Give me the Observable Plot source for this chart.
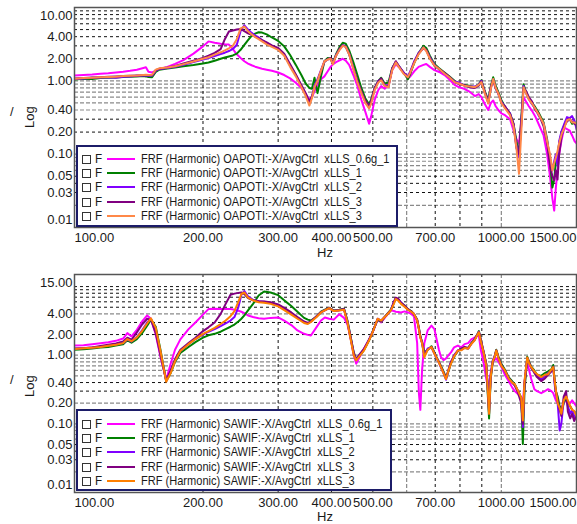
<!DOCTYPE html>
<html><head><meta charset="utf-8">
<script src="https://cdn.jsdelivr.net/npm/d3@7"></script>
<script src="https://cdn.jsdelivr.net/npm/@observablehq/plot@0.6"></script>
<style>
body{margin:0;background:#fff;font-family:"Liberation Sans",Arial,sans-serif;}
#wrap{position:relative;width:577px;height:524px;overflow:hidden;}
.panel{position:absolute;left:0;width:577px;}
.legend{position:absolute;background:#fff;border:2px solid #1c1c68;box-sizing:border-box;font-size:13px;color:#1a1a1a;}
.row{position:absolute;left:0;height:14px;line-height:14px;white-space:pre;width:330px;}
.cb{position:absolute;left:2px;top:3px;width:7px;height:7px;border:1px solid #333;background:#fff;}
.ff{position:absolute;left:15px;top:0;transform:scaleX(0.9);transform-origin:0 0;}
.sw{position:absolute;left:27px;top:6px;width:28px;height:2px;}
.tx{position:absolute;left:61px;top:0;transform:scaleX(0.85);transform-origin:0 0;}
.lab{position:absolute;font-size:13px;color:#1a1a1a;white-space:pre;line-height:12px;}
</style></head>
<body><div id="wrap"></div>
<script>
// ---------- data ----------
const seriesColorsTop = ["#ff00ff", "#008000", "#8000ff", "#800080", "#ff8848"];
const seriesColorsBot = ["#ff00ff", "#008000", "#8000ff", "#800080", "#ff8000"];
const namesTop = ["FRF (Harmonic) OAPOTI:-X/AvgCtrl  xLLS_0.6g_1","FRF (Harmonic) OAPOTI:-X/AvgCtrl  xLLS_1","FRF (Harmonic) OAPOTI:-X/AvgCtrl  xLLS_2","FRF (Harmonic) OAPOTI:-X/AvgCtrl  xLLS_3","FRF (Harmonic) OAPOTI:-X/AvgCtrl  xLLS_3"];
const namesBot = ["FRF (Harmonic) SAWIF:-X/AvgCtrl  xLLS_0.6g_1","FRF (Harmonic) SAWIF:-X/AvgCtrl  xLLS_1","FRF (Harmonic) SAWIF:-X/AvgCtrl  xLLS_2","FRF (Harmonic) SAWIF:-X/AvgCtrl  xLLS_3","FRF (Harmonic) SAWIF:-X/AvgCtrl  xLLS_3"];

const xTicksMid = [200, 300, 400, 500, 700, 1000];
const xTickFirst = [100];
const xTickLast = [1500];
const yTicksTopMid = [4, 2, 1, 0.4, 0.2, 0.1, 0.05, 0.03];
const yTickTopFirst = [10];
const yTicksBotMid = [4, 2, 1, 0.4, 0.2, 0.1, 0.05, 0.03];
const yTickBotFirst = [15];
const yTickLast = [0.01];

const vGridBlack = [200, 300, 400, 500, 700, 800, 900];
const vGridGray = [600, 1000];
const hGridBlackTop = [9, 8, 7, 6, 5, 4, 3, 2, 0.3, 0.2, 0.05, 0.04, 0.03];
const hGridGrayTop = [1, 0.9, 0.8, 0.7, 0.6, 0.5, 0.4, 0.1, 0.09, 0.08, 0.07, 0.06, 0.02];
const hGridBlackBot = [10, 9, 8, 7, 6, 5, 3, 2, 0.4, 0.3, 0.05, 0.04, 0.03];
const hGridGrayBot = [4, 1, 0.9, 0.8, 0.7, 0.6, 0.5, 0.2, 0.1, 0.09, 0.08, 0.07, 0.06, 0.02];

const fTop = [100,105,110,115,120,125,130,135,140,145,147,149,152,155,158,165,172,180,190,200,
206,213,220,225,230,235,240,245,250,255,260,265,270,275,282,290,300,310,320,330,
340,348,355,360,365,371,378,385,392,398,403,410,418,425,432,440,450,460,470,480,
490,495,505,515,523,533,544,555,566,575,590,604,612,625,640,657,667,680,697,715,
736,755,777,795,818,840,867,885,898,915,932,945,957,970,984,1000,1020,1048,1068,1085,
1100,1115,1127,1143,1160,1180,1200,1222,1256,1280,1300,1317,1330,1342,1354,1366,1385,1405,1425,1446,
1465,1485,1500];
const topMag = [1.18,1.20,1.22,1.25,1.27,1.30,1.33,1.37,1.42,1.50,1.53,1.33,1.30,1.38,1.45,1.55,1.70,1.92,2.35,2.95,
3.45,3.30,3.20,3.15,3.12,2.70,2.30,2.05,1.85,1.72,1.63,1.56,1.51,1.46,1.42,1.37,1.30,1.20,1.08,0.94,
0.80,0.66,0.55,0.60,0.72,0.88,1.05,1.15,1.35,1.55,1.68,1.80,1.90,2.00,1.88,1.65,1.20,0.85,0.55,0.38,
0.26,0.32,0.55,0.75,0.85,0.78,0.90,1.40,1.68,1.55,1.30,1.08,1.15,1.35,1.55,1.65,1.70,1.55,1.40,1.32,
1.20,1.05,0.88,0.82,0.78,0.72,0.62,0.66,0.60,0.48,0.40,0.50,0.54,0.45,0.40,0.36,0.34,0.30,0.21,0.16,
0.14,0.30,0.60,0.52,0.45,0.39,0.33,0.26,0.18,0.10,0.05,0.025,0.017,0.035,0.06,0.10,0.16,0.23,0.22,0.21,
0.18,0.15,0.14];
const topGreen = [1.04,1.07,1.06,1.09,1.10,1.11,1.13,1.14,1.15,1.16,1.15,1.13,1.12,1.32,1.42,1.47,1.52,1.58,1.64,1.72,
1.78,1.88,2.00,2.08,2.15,2.22,2.35,2.65,3.10,3.60,4.10,4.40,4.60,4.55,4.30,3.90,3.50,2.95,2.25,1.65,
1.20,0.92,0.80,0.78,1.10,0.68,1.15,1.85,2.05,2.00,1.75,2.30,2.90,3.30,3.20,2.60,1.80,1.20,0.80,0.58,
0.48,0.55,0.80,1.00,1.10,0.92,0.95,1.50,1.80,1.60,1.30,1.05,1.25,1.75,2.40,3.00,2.80,2.20,1.70,1.48,
1.30,1.15,1.00,0.92,0.88,0.86,0.82,0.90,1.02,0.72,0.55,0.85,1.12,0.85,0.70,0.55,0.44,0.36,0.26,0.15,
0.10,0.35,0.90,0.70,0.58,0.50,0.44,0.37,0.27,0.16,0.08,0.035,0.045,0.08,0.10,0.14,0.20,0.25,0.30,0.30,
0.26,0.27,0.24];
const topViolet = [1.06,1.08,1.10,1.11,1.12,1.10,1.14,1.15,1.17,1.18,1.18,1.17,1.18,1.38,1.45,1.50,1.56,1.66,1.80,1.95,
2.05,2.18,2.32,2.42,2.55,2.72,3.10,4.80,5.70,5.00,4.50,4.15,3.90,3.60,3.30,3.00,2.72,2.25,1.62,1.20,
0.85,0.66,0.50,0.60,0.85,1.05,1.40,1.85,1.95,2.00,1.70,2.25,2.70,3.05,2.95,2.35,1.50,1.00,0.70,0.52,
0.43,0.50,0.78,1.00,1.05,0.88,0.85,1.45,1.82,1.60,1.30,1.15,1.35,1.85,2.40,2.85,2.60,2.10,1.65,1.42,
1.25,1.12,0.98,0.95,0.86,0.84,0.84,0.88,1.00,0.68,0.52,0.80,1.05,0.80,0.66,0.52,0.44,0.36,0.25,0.13,
0.09,0.30,0.85,0.68,0.56,0.48,0.42,0.34,0.26,0.15,0.09,0.06,0.08,0.10,0.07,0.15,0.21,0.26,0.32,0.31,
0.33,0.28,0.22];
const topPurple = [1.08,1.09,1.11,1.12,1.14,1.15,1.16,1.17,1.18,1.19,1.20,1.19,1.19,1.40,1.46,1.52,1.60,1.72,1.88,2.05,
2.20,2.40,2.70,3.70,4.70,4.85,5.00,5.10,4.75,4.45,4.25,4.00,3.80,3.60,3.35,3.05,2.80,2.35,1.68,1.22,
0.88,0.68,0.52,0.62,0.80,1.00,1.35,1.80,1.98,2.05,1.72,2.20,2.75,3.05,2.90,2.30,1.50,1.00,0.72,0.54,
0.46,0.52,0.80,0.98,1.08,0.86,0.84,1.48,1.85,1.58,1.28,1.12,1.30,1.80,2.35,2.80,2.65,2.05,1.60,1.45,
1.28,1.14,0.96,0.90,0.88,0.82,0.80,0.86,0.98,0.70,0.50,0.82,1.02,0.78,0.68,0.50,0.45,0.35,0.26,0.12,
0.10,0.28,0.80,0.72,0.60,0.52,0.40,0.36,0.24,0.14,0.07,0.05,0.044,0.06,0.045,0.10,0.18,0.24,0.28,0.30,
0.28,0.26,0.25];
const topOrange = [1.07,1.09,1.10,1.12,1.13,1.14,1.16,1.17,1.18,1.20,1.21,1.20,1.21,1.42,1.48,1.52,1.58,1.69,1.84,2.00,
2.10,2.28,2.45,2.60,2.78,3.00,3.70,5.20,5.50,4.75,4.30,3.95,3.70,3.45,3.15,2.90,2.65,2.20,1.55,1.15,
0.82,0.62,0.46,0.58,0.82,1.00,1.38,1.85,1.95,2.00,1.68,2.20,2.65,3.00,2.90,2.30,1.45,0.95,0.68,0.50,
0.42,0.48,0.75,0.95,1.02,0.85,0.82,1.40,1.78,1.55,1.25,1.12,1.30,1.75,2.30,2.85,2.55,2.00,1.62,1.45,
1.25,1.12,0.96,0.92,0.86,0.84,0.82,0.88,0.96,0.67,0.49,0.78,1.06,0.80,0.67,0.50,0.42,0.34,0.24,0.12,
0.054,0.23,0.82,0.67,0.56,0.49,0.42,0.35,0.26,0.15,0.10,0.06,0.075,0.09,0.11,0.14,0.19,0.23,0.29,0.30,
0.27,0.27,0.26];

const fBot = [100,105,110,115,120,125,130,133,136,140,144,148,151,155,159,164,168,172,177,185,
192,200,206,213,220,226,232,237,242,246,250,255,262,270,278,288,300,310,322,333,
345,352,358,368,378,386,395,405,417,428,436,444,451,457,464,477,490,500,513,523,
537,551,560,566,574,582,593,604,615,624,635,641,646,652,660,672,686,697,704,714,
722,732,742,752,762,775,791,805,820,836,850,865,878,886,895,910,922,930,936,944,
955,964,973,985,1000,1019,1040,1060,1075,1095,1113,1123,1133,1150,1162,1175,1195,1212,1240,1265,
1287,1310,1323,1335,1342,1355,1370,1382,1400,1418,1432,1450,1465,1481,1500];
const botMag = [1.38,1.40,1.45,1.50,1.55,1.62,1.75,2.10,1.88,2.35,3.10,3.80,3.40,2.00,0.95,0.44,0.75,1.20,1.70,2.40,
3.00,3.90,4.70,4.75,4.70,4.70,4.70,4.60,4.45,4.30,4.10,3.80,3.60,3.45,3.40,3.50,3.55,3.20,2.75,2.30,
2.05,1.98,1.94,2.50,3.20,3.55,3.40,3.30,3.95,3.50,2.80,1.70,1.00,0.75,0.90,1.25,1.70,2.20,3.30,3.00,
3.70,4.50,4.40,4.30,4.25,4.20,4.35,4.20,4.00,3.70,1.50,0.28,0.16,0.60,1.50,2.30,2.70,2.40,1.80,1.20,
0.94,0.85,0.90,1.00,1.10,1.30,1.38,1.30,1.45,1.50,1.70,1.80,1.95,1.90,1.20,0.75,0.45,0.35,0.40,0.55,
0.80,0.85,0.90,0.80,0.68,0.52,0.42,0.34,0.30,0.27,0.24,0.20,0.40,0.78,0.60,0.45,0.32,0.30,0.28,0.30,
0.32,0.30,0.28,0.24,0.22,0.20,0.18,0.17,0.20,0.22,0.21,0.20,0.22,0.20,0.18];
const botGreen = [1.20,1.22,1.25,1.30,1.32,1.38,1.45,1.65,1.52,1.72,2.10,2.70,3.30,2.60,1.20,0.42,0.55,0.80,1.08,1.32,
1.55,1.80,1.95,2.05,2.20,2.40,2.60,2.80,3.10,3.40,3.80,4.50,5.60,7.40,8.50,8.20,7.50,6.30,5.20,4.30,
3.50,3.30,3.20,3.60,4.30,4.60,4.90,4.50,4.60,4.75,3.20,1.80,1.10,0.88,0.95,1.20,1.65,2.25,3.30,3.10,
3.80,4.60,5.80,6.70,6.40,5.80,5.30,4.70,4.40,4.00,3.30,2.50,1.90,1.55,1.10,1.20,1.35,1.10,0.95,0.80,
0.70,0.58,0.47,0.58,0.76,0.95,1.15,1.25,1.30,1.26,1.50,1.70,2.00,2.25,1.70,1.10,0.75,0.25,0.12,0.45,
0.80,0.95,1.20,0.95,0.75,0.62,0.48,0.42,0.38,0.30,0.24,0.051,0.30,0.95,0.80,0.68,0.60,0.52,0.50,0.55,
0.58,0.62,0.72,0.40,0.30,0.25,0.18,0.15,0.20,0.24,0.20,0.18,0.16,0.15,0.14];
const botViolet = [1.24,1.27,1.30,1.33,1.38,1.43,1.50,1.70,1.58,1.85,2.30,3.00,3.40,2.40,1.10,0.42,0.58,0.84,1.15,1.45,
1.72,2.00,2.20,2.40,2.65,2.90,3.20,3.60,5.00,7.60,8.60,7.20,6.40,6.10,6.00,5.80,5.40,4.80,4.10,3.50,
3.05,2.90,3.10,3.60,4.20,4.50,4.85,4.40,4.50,4.65,3.00,1.70,1.05,0.85,0.98,1.22,1.70,2.20,3.40,3.20,
3.75,4.50,6.00,6.80,6.50,5.90,5.20,4.60,4.30,4.00,3.20,2.40,1.85,1.50,1.00,1.25,1.30,1.05,0.92,0.78,
0.66,0.55,0.44,0.60,0.78,1.00,1.18,1.20,1.28,1.24,1.45,1.68,1.95,2.20,1.65,1.08,0.72,0.35,0.16,0.50,
0.85,0.96,1.15,0.90,0.70,0.58,0.46,0.40,0.37,0.30,0.22,0.09,0.40,0.90,0.76,0.65,0.58,0.50,0.45,0.50,
0.55,0.60,0.65,0.35,0.28,0.20,0.08,0.10,0.22,0.26,0.18,0.14,0.16,0.12,0.15];
const botPurple = [1.25,1.26,1.30,1.36,1.42,1.48,1.58,1.80,1.68,2.15,2.80,3.40,3.30,2.10,1.00,0.43,0.60,0.88,1.20,1.50,
1.80,2.25,2.55,3.00,4.00,5.60,7.60,7.90,8.10,8.20,7.80,6.80,6.30,6.10,6.05,5.90,5.50,4.90,4.20,3.60,
3.10,2.95,3.10,3.65,4.25,4.55,4.90,4.45,4.55,4.70,3.10,1.75,1.08,0.87,1.00,1.25,1.68,2.22,3.35,3.15,
3.80,4.55,5.90,6.90,6.60,5.80,5.30,4.70,4.35,3.95,3.30,2.45,1.85,1.55,0.98,1.20,1.32,1.08,0.94,0.80,
0.68,0.56,0.46,0.62,0.80,0.98,1.16,1.22,1.32,1.28,1.48,1.65,1.98,2.18,1.68,1.05,0.74,0.28,0.14,0.48,
0.82,0.94,1.18,0.92,0.72,0.60,0.47,0.40,0.36,0.28,0.20,0.10,0.38,0.92,0.78,0.66,0.55,0.48,0.42,0.46,
0.52,0.58,0.68,0.38,0.30,0.22,0.16,0.13,0.25,0.30,0.15,0.12,0.14,0.11,0.13];
const botOrange = [1.23,1.26,1.29,1.32,1.37,1.42,1.50,1.72,1.60,1.82,2.25,2.90,3.45,2.50,1.15,0.41,0.55,0.82,1.15,1.45,
1.72,2.05,2.25,2.50,2.85,3.20,3.70,4.40,6.00,7.80,8.20,6.90,6.30,5.90,5.80,5.60,5.15,4.55,3.90,3.40,
2.95,2.85,3.05,3.55,4.20,4.50,4.85,4.40,4.50,4.60,3.00,1.65,1.00,0.84,0.95,1.18,1.65,2.20,3.40,3.20,
3.76,4.50,5.60,6.60,6.20,5.60,5.10,4.60,4.30,4.00,3.20,2.40,1.80,1.50,0.93,1.20,1.31,1.05,0.93,0.78,
0.67,0.55,0.45,0.60,0.75,0.96,1.17,1.18,1.27,1.24,1.45,1.64,1.95,2.16,1.60,1.05,0.70,0.30,0.14,0.48,
0.82,0.93,1.17,0.90,0.70,0.60,0.46,0.40,0.38,0.30,0.24,0.112,0.42,0.93,0.75,0.67,0.58,0.53,0.48,0.52,
0.53,0.62,0.67,0.40,0.31,0.20,0.17,0.14,0.22,0.25,0.22,0.18,0.16,0.155,0.13];

// ---------- build ----------
const fmt = d => d.toFixed(2);
function toRows(f, v) { return f.map((x, i) => ({f: x, v: v[i]})); }

function panel(cfg) {
  const lineMarks = cfg.series.map((vals, i) =>
    Plot.line(toRows(cfg.f, vals), {x: "f", y: "v", stroke: cfg.colors[i], strokeWidth: 2, clip: true, strokeLinejoin: "round"}));
  const tx = {text: fmt, fontSize: 13, fill: "#1a1a1a"};
  return Plot.plot({
    width: 577, height: cfg.height,
    marginTop: cfg.mt, marginBottom: cfg.mb, marginLeft: 74, marginRight: 1,
    x: {type: "log", domain: [100, 1500], label: null, axis: null},
    y: {type: "log", domain: cfg.ydom, label: null, axis: null},
    style: {fontFamily: "'Liberation Sans', Arial, sans-serif", fontSize: "13px", color: "#1a1a1a", background: "transparent"},
    marks: [
      Plot.ruleY(cfg.gridGray, {stroke: "#8a8a8a", strokeWidth: 1.2, strokeDasharray: "4,2"}),
      Plot.ruleY(cfg.gridBlack, {stroke: "#111", strokeWidth: 1, strokeDasharray: "3,3"}),
      Plot.ruleX(vGridBlack, {stroke: "#111", strokeWidth: 1, strokeDasharray: "3,3"}),
      Plot.ruleX(vGridGray, {stroke: "#8a8a8a", strokeWidth: 1.2, strokeDasharray: "4,2"}),
      ...lineMarks,
      Plot.frame({stroke: "#555", strokeWidth: 1.5}),
      Plot.text(xTicksMid, {...tx, x: d => d, frameAnchor: "bottom", lineAnchor: "top", dy: 5}),
      Plot.text(xTickFirst, {...tx, x: d => d, frameAnchor: "bottom", lineAnchor: "top", dy: 5, textAnchor: "start"}),
      Plot.text(xTickLast, {...tx, x: d => d, frameAnchor: "bottom", lineAnchor: "top", dy: 5, textAnchor: "end"}),
      Plot.text(cfg.yMid, {...tx, y: d => d, frameAnchor: "left", textAnchor: "end", dx: -2}),
      Plot.text(cfg.yFirst, {...tx, y: d => d, frameAnchor: "left", textAnchor: "end", dx: -2, dy: 8}),
      Plot.text(yTickLast, {...tx, y: d => d, frameAnchor: "left", textAnchor: "end", dx: -2, dy: -8})
    ]
  });
}

const wrap = document.getElementById("wrap");
function addPanel(top, cfg, legendBox, names, colors, ylab) {
  const div = document.createElement("div");
  div.className = "panel"; div.style.top = top + "px";
  div.appendChild(panel(cfg));
  wrap.appendChild(div);
  const lg = document.createElement("div");
  lg.className = "legend";
  Object.assign(lg.style, {left: legendBox.x + "px", top: legendBox.y + "px", width: legendBox.w + "px", height: legendBox.h + "px"});
  names.forEach((n, i) => {
    const r = document.createElement("div");
    r.className = "row";
    r.style.top = (legendBox.first + i * 14.2 - 7) + "px";
    r.style.left = "2px";
    r.innerHTML = `<span class="cb"></span><span class="ff">F</span><span class="sw" style="background:${colors[i]}"></span><span class="tx"></span>`;
    r.querySelector(".tx").textContent = n;
    lg.appendChild(r);
  });
  wrap.appendChild(lg);
  const hz = document.createElement("div");
  hz.className = "lab"; hz.textContent = "Hz";
  Object.assign(hz.style, {left: "317px", top: (ylab.hz - 6) + "px"});
  wrap.appendChild(hz);
  const lg2 = document.createElement("div");
  lg2.className = "lab"; lg2.textContent = "Log";
  Object.assign(lg2.style, {left: "18px", top: (ylab.log - 6) + "px", transform: "rotate(-90deg)", transformOrigin: "12px 6px"});
  wrap.appendChild(lg2);
  const sl = document.createElement("div");
  sl.className = "lab"; sl.textContent = "/";
  Object.assign(sl.style, {left: "10px", top: (ylab.slash - 6) + "px"});
  wrap.appendChild(sl);
}

addPanel(0, {f: fTop, height: 262, mt: 7, mb: 35, ydom: [0.01, 10],
  series: [topMag, topGreen, topViolet, topPurple, topOrange], colors: seriesColorsTop,
  gridBlack: hGridBlackTop, gridGray: hGridGrayTop, yMid: yTicksTopMid, yFirst: yTickTopFirst},
  {x: 76, y: 145, w: 322, h: 82, first: 12}, namesTop, seriesColorsTop, {hz: 253, log: 116, slash: 112});

addPanel(262, {f: fBot, height: 262, mt: 12, mb: 32, ydom: [0.01, 15],
  series: [botMag, botGreen, botViolet, botPurple, botOrange], colors: seriesColorsBot,
  gridBlack: hGridBlackBot, gridGray: hGridGrayBot, yMid: yTicksBotMid, yFirst: yTickBotFirst},
  {x: 76, y: 409, w: 316, h: 82, first: 13}, namesBot, seriesColorsBot, {hz: 517, log: 385, slash: 380});
</script>
</body></html>
